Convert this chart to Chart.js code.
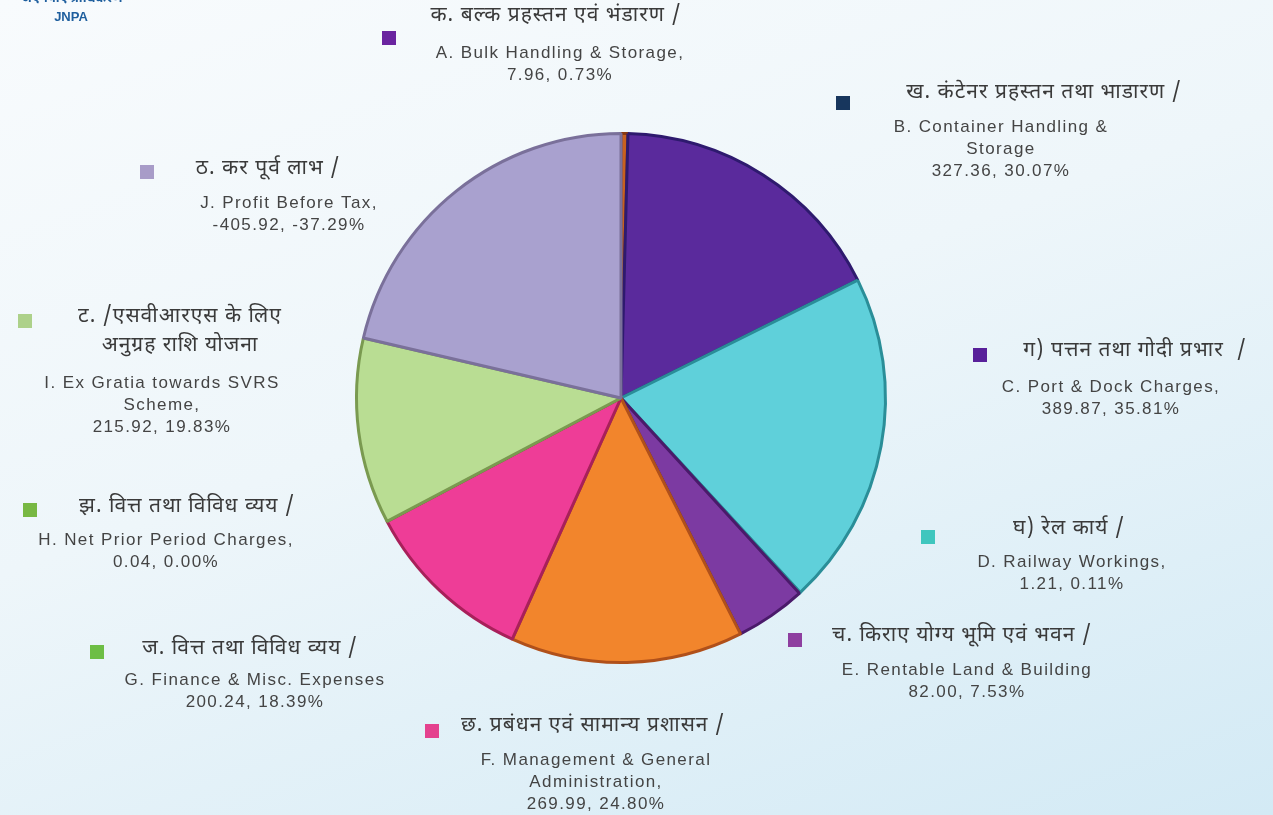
<!DOCTYPE html>
<html>
<head>
<meta charset="utf-8">
<script src="https://cdn.jsdelivr.net/npm/chart.js@4.4.1/dist/chart.umd.min.js"></script>
<style>
  html, body { margin: 0; padding: 0; }
  body { width: 1273px; height: 815px; overflow: hidden;
    background: linear-gradient(160deg, #f8fbfd 0%, #eef6fa 45%, #d3eaf5 100%); }
  #wrap { position: absolute; left: 0; top: 0; width: 1273px; height: 815px; }
</style>
</head>
<body>
<div id="wrap"><canvas id="c"></canvas></div>
<script>
// ---- data ----
const codes = ['A', 'B', 'C', 'D', 'E', 'F', 'G', 'H', 'I', 'J'];
const hindiLabels = [
  ['क. बल्क प्रहस्तन एवं भंडारण /'],
  ['ख. कंटेनर प्रहस्तन तथा भाडारण /'],
  ['ग) पत्तन तथा गोदी प्रभार  /'],
  ['घ) रेल कार्य /'],
  ['च. किराए योग्य भूमि एवं भवन /'],
  ['छ. प्रबंधन एवं सामान्य प्रशासन /'],
  ['ज. वित्त तथा विविध व्यय /'],
  ['झ. वित्त तथा विविध व्यय /'],
  ['ट. /एसवीआरएस के लिए', 'अनुग्रह राशि योजना'],
  ['ठ. कर पूर्व लाभ /']
];
const englishLabels = [
  ['A. Bulk Handling & Storage,'],
  ['B. Container Handling &', 'Storage'],
  ['C. Port & Dock Charges,'],
  ['D. Railway Workings,'],
  ['E. Rentable Land & Building'],
  ['F. Management & General', 'Administration,'],
  ['G. Finance & Misc. Expenses'],
  ['H. Net Prior Period Charges,'],
  ['I. Ex Gratia towards SVRS', 'Scheme,'],
  ['J. Profit Before Tax,']
];
const values = [7.96, 327.36, 389.87, 1.21, 82.00, 269.99, 200.24, 0.04, 215.92, -405.92];
const percents = ['0.73%', '30.07%', '35.81%', '0.11%', '7.53%', '24.80%', '18.39%', '0.00%', '19.83%', '-37.29%'];

// ---- styles ----
const sliceColors = ['#c8611f', '#5a2a9c', '#5fd0da', '#5fd0da', '#7c3aa2', '#f2852c', '#ee3d97', '#c0a070', '#b9dd93', '#a9a1cf'];
const sliceBorders = ['#8a3a10', '#2e1a6e', '#2a8e98', '#2a8e98', '#4a1a6a', '#b0501a', '#a8205a', '#8a6a40', '#7a9a50', '#7a709a'];
const markerColors = ['#6a24a0', '#17365d', '#58209a', '#3fc6be', '#8e3fa0', '#e4418e', '#6dbe45', '#78b843', '#add18a', '#a89cc8'];
// label layout: marker centre, hindi centre x, hindi first y, english centre x, english first y
const labelLayout = [
  { m: [389, 38],  hx: 556,  hy: 17,  ex: 560,  ey: 53 },
  { m: [843, 103], hx: 1044, hy: 94,  ex: 1001, ey: 127 },
  { m: [980, 355], hx: 1135, hy: 352, ex: 1111, ey: 387 },
  { m: [928, 537], hx: 1069, hy: 530, ex: 1072, ey: 562 },
  { m: [795, 640], hx: 962,  hy: 637, ex: 967,  ey: 670 },
  { m: [432, 731], hx: 593,  hy: 727, ex: 596,  ey: 760 },
  { m: [97, 652],  hx: 250,  hy: 650, ex: 255,  ey: 680 },
  { m: [30, 510],  hx: 187,  hy: 508, ex: 166,  ey: 540 },
  { m: [25, 321],  hx: 180,  hy: 318, ex: 162,  ey: 383 },
  { m: [147, 172], hx: 268,  hy: 170, ex: 289,  ey: 203 }
];

const labelPlugin = {
  id: 'labels',
  afterDraw(chart) {
    const ctx = chart.ctx;
    ctx.save();
    ctx.textAlign = 'center';
    ctx.textBaseline = 'middle';
    codes.forEach((code, i) => {
      const L = labelLayout[i];
      ctx.fillStyle = markerColors[i];
      ctx.fillRect(L.m[0] - 7, L.m[1] - 7, 14, 14);
      ctx.fillStyle = '#3a3a3a';
      ctx.letterSpacing = '1px';
      ctx.font = '21px "Noto Sans Devanagari", "Lohit Devanagari", "Noto Sans", sans-serif';
      hindiLabels[i].forEach((t, k) => ctx.fillText(t, L.hx, L.hy + k * 29));
      ctx.fillStyle = '#444444';
      ctx.letterSpacing = '1.4px';
      ctx.font = '17px "Liberation Sans", Arial, sans-serif';
      const lines = englishLabels[i].concat([values[i].toFixed(2) + ', ' + percents[i]]);
      lines.forEach((t, k) => ctx.fillText(t, L.ex, L.ey + k * 22));
    });
    ctx.letterSpacing = '0px';
    // logo text
    ctx.fillStyle = '#1f5f9e';
    ctx.font = 'bold 13px "Liberation Sans", Arial, sans-serif';
    ctx.fillText('JNPA', 71, 17);
    ctx.font = 'bold 13px "Noto Sans Devanagari", "Noto Sans", sans-serif';
    ctx.fillText('जेएनपीए प्राधिकरण', 72, 0);
    ctx.restore();
  }
};

new Chart(document.getElementById('c'), {
  type: 'pie',
  data: {
    labels: codes,
    datasets: [{
      data: values.map(v => Math.abs(v)),
      backgroundColor: sliceColors,
      borderColor: sliceBorders,
      borderWidth: 3
    }]
  },
  options: {
    responsive: true,
    maintainAspectRatio: false,
    animation: false,
    layout: { padding: { left: 355, right: 386, top: 132, bottom: 151 } },
    plugins: { legend: { display: false }, tooltip: { enabled: false } }
  },
  plugins: [labelPlugin]
});
</script>
</body>
</html>
